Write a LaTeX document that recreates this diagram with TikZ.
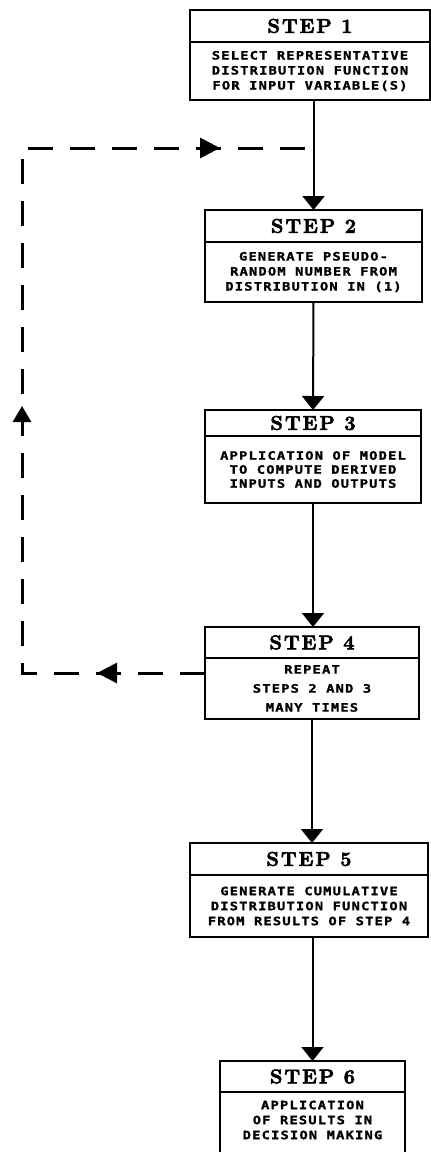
\documentclass[tikz,border=0pt]{standalone}
\usepackage{fontspec}
\usetikzlibrary{arrows.meta,decorations.markings}
\newfontfamily\plotfont{DejaVu Sans Mono}[FakeStretch=1.2,LetterSpace=10,FakeBold=1.4]
\newfontfamily\headfont{Latin Modern Roman}[LetterSpace=10,FakeBold=3]
\begin{document}
\begin{tikzpicture}[x=1pt,y=-1pt,
  frame/.style={draw, line width=2pt, inner sep=0pt, outer sep=0pt},
  head/.style={frame, font=\headfont\bfseries\fontsize{20}{20}\selectfont},
  body/.style={frame, align=center, font=\plotfont\bfseries\fontsize{11.5}{15}\selectfont},
  plain/.style={inner sep=0pt, align=center, font=\plotfont\bfseries\fontsize{11.5}{15}\selectfont},
  flow/.style={line width=2pt, -{Triangle[width=22pt,length=14pt]}},
  loopback/.style={line width=3pt, dash pattern=on 25pt off 17pt,
    postaction={decorate},
    decoration={markings,
      mark=at position 108pt with {\arrow{Triangle[width=20pt,length=20pt]}},
      mark=at position 450pt with {\arrow{Triangle[width=18pt,length=16pt]}},
      mark=at position 906pt with {\arrow{Triangle[width=20pt,length=20pt]}}}},
]
\useasboundingbox (0,0) rectangle (431,1152);
\clip (0,0) rectangle (431,1152);

% step 1
\node[head, minimum width=240, minimum height=32] (s1h) at (310,26) {STEP 1};
\node[body, minimum width=240, minimum height=58] (s1b) at (310,71)
  {SELECT REPRESENTATIVE\\DISTRIBUTION FUNCTION\\FOR INPUT VARIABLE(S)};

% step 2
\node[head, minimum width=217, minimum height=32] (s2h) at (313.5,226) {STEP 2};
\node[body, minimum width=217, minimum height=60] (s2b) at (313.5,272)
  {GENERATE PSEUDO-\\RANDOM NUMBER FROM\\DISTRIBUTION IN (1)};

% step 3
\node[head, minimum width=216, minimum height=26] (s3h) at (313,423) {STEP 3};
\node[body, minimum width=216, minimum height=67,
  font=\plotfont\bfseries\fontsize{11.5}{14}\selectfont] (s3b) at (313,469.5)
  {APPLICATION OF MODEL\\TO COMPUTE DERIVED\\INPUTS AND OUTPUTS};

% step 4
\node[head, minimum width=214, minimum height=31] (s4h) at (312,642.5) {STEP 4};
\node[body, minimum width=214, minimum height=61,
  font=\plotfont\bfseries\fontsize{11.5}{19}\selectfont] (s4b) at (312,688.5)
  {REPEAT\\STEPS 2 AND 3\\MANY TIMES};

% step 5
\node[head, minimum width=238, minimum height=32] (s5h) at (309,859) {STEP 5};
\node[body, minimum width=238, minimum height=62] (s5b) at (309,906)
  {GENERATE CUMULATIVE\\DISTRIBUTION FUNCTION\\FROM RESULTS OF STEP 4};

% step 6 (runs past the lower edge)
\node[head, minimum width=185, minimum height=31] (s6h) at (312.5,1076.5) {STEP 6};
\node[frame, minimum width=185, minimum height=78] (s6b) at (312.5,1131) {};
\node[plain] (s6t) at (312.5,1120)
  {APPLICATION\\OF RESULTS IN\\DECISION MAKING};

% main flow
\draw[flow] (s1b.south -| s2h.north) -- (s2h.north);
\draw[flow] (s2b.south) -- (s3h.north);
\draw[flow] (s3b.south) -- (s3b.south |- s4h.north);
\draw[flow] (s4b.south) -- (s4b.south |- s5h.north);
\draw[flow] (s5b.south -| s6h.north) -- (s6h.north);

% repeat loop back to step 2
\coordinate (r) at (s4b.west |- 0,673);
\coordinate (c1) at (22,673);
\coordinate (c2) at (22,148);
\coordinate (j) at (s2h.north |- 0,148);
\draw[loopback] (r) -- (c1) -- (c2) -- (j);
\end{tikzpicture}
\end{document}
